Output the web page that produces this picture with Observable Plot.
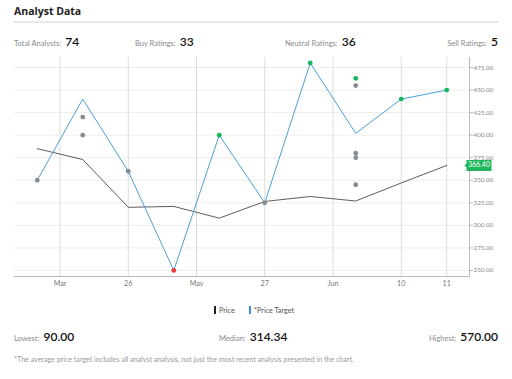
<!DOCTYPE html>
<html>
<head>
<meta charset="utf-8">
<script src="https://cdn.jsdelivr.net/npm/d3@7"></script>
<script src="https://cdn.jsdelivr.net/npm/@observablehq/plot@0.6"></script>
<style>
  html, body { margin: 0; padding: 0; background: #fff; }
  body { width: 512px; height: 379px; position: relative; overflow: hidden; font-family: Lato, "Open Sans", sans-serif; }
  .abs { position: absolute; white-space: nowrap; }
  .title { left: 14px; top: 4px; font-size: 10.5px; font-weight: 700; color: #222; font-family: "Open Sans", sans-serif; }
  .sep { left: 14px; top: 21px; width: 484px; height: 2px; background: #e6e6e6; }
  .lbl { font-size: 7.5px; color: #8a8a8a; }
  .num { font-size: 12px; font-weight: 600; color: #111; }
  #chart { left: 0; top: 50px; }
  .legend { top: 306px; font-size: 7.2px; color: #555; }
  .legend .bar { display: inline-block; width: 2px; height: 8px; vertical-align: -1px; margin-right: 3px; }
  .foot { left: 14px; top: 355px; font-size: 7.1px; color: #9a9a9a; }
</style>
</head>
<body>
<div class="abs title">Analyst Data</div>
<div class="abs sep"></div>
<div id="stats"></div>
<div id="chart" class="abs"></div>
<div id="legend"></div>
<div id="stats2"></div>
<div class="abs foot">*The average price target includes all analyst analysis, not just the most recent analysis presented in the chart.</div>
<script>
// ---- data ----
const idx = [0, 1, 2, 3, 4, 5, 6, 7, 8, 9];
const price = [385, 373, 320, 321, 308, 326.5, 332, 327, 347, 366.4];
const target = [350, 440, 360, 250, 400, 325, 480, 402, 440, 450];
const ratingIdx = [0, 1, 1, 2, 3, 4, 5, 6, 7, 7, 7, 7, 7, 8, 9];
const ratingVal = [350, 420, 400, 360, 250, 400, 325, 480, 463, 455, 380, 375, 345, 440, 450];
const ratingType = ["Hold","Hold","Hold","Hold","Sell","Buy","Hold","Buy","Buy","Hold","Hold","Hold","Hold","Buy","Buy"];
const tickPos = [0.5, 2, 3.5, 5, 6.5, 8, 9];
const tickLabels = ["Mar", "26", "May", "27", "Jun", "10", "11"];
const yTicks = [250, 275, 300, 325, 350, 375, 400, 425, 450, 475];
const topStats = [["Total Analysts:", "74"], ["Buy Ratings:", "33"], ["Neutral Ratings:", "36"], ["Sell Ratings:", "5"]];
const bottomStats = [["Lowest:", "90.00"], ["Median:", "314.34"], ["Highest:", "570.00"]];
const legendItems = [["Price", "#222"], ["*Price Target", "#3d8fd6"]];

// ---- html text ----
const topPos = [{left: "14px"}, {left: "135px"}, {left: "285px"}, {right: "14px"}];
const stats = document.getElementById("stats");
topStats.forEach(([l, v], i) => {
  const d = document.createElement("div");
  d.className = "abs";
  Object.assign(d.style, topPos[i], {top: "30px"});
  d.innerHTML = `<span class="lbl">${l}</span> <span class="num">${v}</span>`;
  stats.appendChild(d);
});
const botPos = [{left: "14px"}, {left: "219px"}, {right: "14px"}];
const stats2 = document.getElementById("stats2");
bottomStats.forEach(([l, v], i) => {
  const d = document.createElement("div");
  d.className = "abs";
  Object.assign(d.style, botPos[i], {top: "325px"});
  d.innerHTML = `<span class="lbl">${l}</span> <span class="num">${v}</span>`;
  stats2.appendChild(d);
});
const legPos = ["214px", "249px"];
const legend = document.getElementById("legend");
legendItems.forEach(([l, c], i) => {
  const d = document.createElement("div");
  d.className = "abs legend";
  d.style.left = legPos[i];
  d.innerHTML = `<span class="bar" style="background:${c}"></span>${l}`;
  legend.appendChild(d);
});

// ---- chart ----
const series = idx.map(i => ({i, price: price[i], target: target[i]}));
const ratings = ratingIdx.map((i, k) => ({i, v: ratingVal[k], t: ratingType[k]}));
const last = series[series.length - 1];

const chart = Plot.plot({
  width: 512,
  height: 245,
  marginLeft: 14,
  marginRight: 43,
  marginTop: 7,
  marginBottom: 19,
  style: {fontFamily: "Lato, sans-serif", background: "transparent"},
  x: {type: "linear", domain: [-0.5, 9.5], axis: null, label: null},
  y: {domain: [243.3, 486.1], axis: null, label: null},
  color: {domain: ["Buy", "Hold", "Sell"], range: ["#14b85a", "#858b8f", "#f03a3a"]},
  marks: [
    Plot.gridY(yTicks, {stroke: "#eeeeee", strokeOpacity: 1}),
    Plot.gridX(tickPos, {stroke: "#dddddd", strokeOpacity: 1}),
    Plot.frame({anchor: "bottom", stroke: "#bbbbbb"}),
    Plot.frame({anchor: "right", stroke: "#bbbbbb"}),
    Plot.axisX(tickPos, {label: null, tickFormat: (d, k) => tickLabels[k], tickSize: 0, tickPadding: 4, fontSize: 7.2, fill: "#777"}),
    Plot.axisY(yTicks, {label: null, anchor: "right", tickFormat: d3.format(".2f"), tickSize: 3, tickPadding: 1, fontSize: 6.3, fill: "#8a8a8a", stroke: "#bbb"}),
    Plot.line(series, {x: "i", y: "price", stroke: "#333", strokeWidth: 0.8}),
    Plot.line(series, {x: "i", y: "target", stroke: "#4a9fd8", strokeWidth: 1}),
    Plot.dot(ratings, {x: "i", y: "v", fill: "t", r: 2.4}),
    Plot.tip([last], {
      x: "i", y: "price",
      title: d => d.price.toFixed(2),
      anchor: "left", dx: 18,
      fill: "#1fb55c", stroke: "none",
      pointerSize: 4, textPadding: 1.5, fontSize: 7,
      pathFilter: "none",
      render: (index, scales, values, dims, context, next) => {
        const g = next(index, scales, values, dims, context);
        d3.select(g).selectAll("text, tspan").attr("fill", "white").style("fill", "white");
        d3.select(g).style("color", "white");
        return g;
      }
    })
  ]
});
document.getElementById("chart").appendChild(chart);
</script>
</body>
</html>
